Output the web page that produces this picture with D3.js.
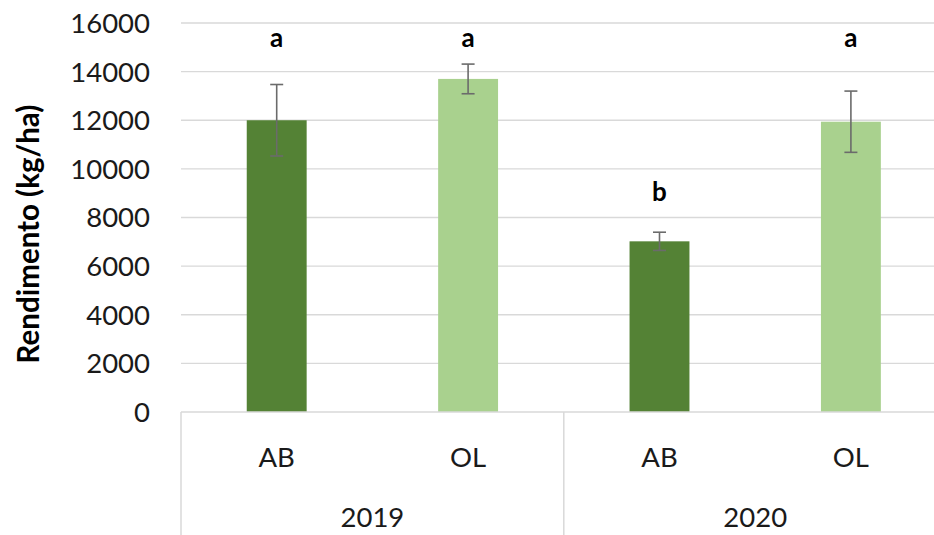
<!DOCTYPE html>
<html>
<head>
<meta charset="utf-8">
<script src="https://cdn.jsdelivr.net/npm/d3@7/dist/d3.min.js"></script>
<style>
  html, body { margin: 0; padding: 0; background: #fff; }
  svg { display: block; font-family: Lato, "Open Sans", sans-serif; }
</style>
</head>
<body>
<svg id="chart" width="934" height="535"></svg>
<script>
// Rendimento por tratamento e ano
const years = ["2019", "2019", "2020", "2020"];
const treatments = ["AB", "OL", "AB", "OL"];
const yieldMean = [12000, 13700, 7020, 11940];
const yieldErr = [1470, 610, 375, 1260];
const letters = ["a", "a", "b", "a"];
const letterAt = [15300, 15300, 8980, 15300];   // kg/ha level of each letter
const yTicks = [0, 2000, 4000, 6000, 8000, 10000, 12000, 14000, 16000];
const yearGroups = ["2019", "2020"];

const colors = { AB: "#548235", OL: "#a9d18e" };

const svg = d3.select("#chart");
const plotLeft = 181, step = 191.4, plotTop = 23, plotBottom = 412;
const keys = treatments.map((t, i) => i);

const x = d3.scaleBand()
  .domain(keys)
  .range([plotLeft, plotLeft + step * keys.length])
  .paddingInner(0.687)
  .paddingOuter(0.3435);

const y = d3.scaleLinear().domain([0, 16000]).range([plotBottom, plotTop]);

// gridlines
svg.append("g")
  .selectAll("line")
  .data(yTicks.filter(d => d > 0))
  .join("line")
  .attr("x1", plotLeft).attr("x2", plotLeft + step * keys.length)
  .attr("y1", d => y(d)).attr("y2", d => y(d))
  .attr("stroke", "#d9d9d9").attr("stroke-width", 1.3);

// y tick labels
svg.append("g")
  .selectAll("text")
  .data(yTicks)
  .join("text")
  .attr("x", 150)
  .attr("y", d => y(d))
  .attr("dy", "0.36em")
  .attr("text-anchor", "end")
  .attr("font-size", 27.5)
  .attr("fill", "#1a1a1a")
  .text(d => d);

// y axis title
svg.append("text")
  .attr("transform", `translate(39,234) rotate(-90)`)
  .attr("text-anchor", "middle")
  .attr("font-size", 29.5)
  .attr("font-weight", "bold")
  .attr("fill", "#000")
  .text("Rendimento (kg/ha)");

// bars
svg.append("g")
  .selectAll("rect")
  .data(keys)
  .join("rect")
  .attr("x", i => x(i))
  .attr("width", x.bandwidth())
  .attr("y", i => y(yieldMean[i]))
  .attr("height", i => y(0) - y(yieldMean[i]))
  .attr("fill", i => colors[treatments[i]]);

// error bars
const eb = svg.append("g").attr("stroke", "#6b6b6b").attr("stroke-width", 1.6).attr("fill", "none");
keys.forEach(i => {
  const cx = x(i) + x.bandwidth() / 2;
  const hi = y(yieldMean[i] + yieldErr[i]);
  const lo = y(yieldMean[i] - yieldErr[i]);
  eb.append("line").attr("x1", cx).attr("x2", cx).attr("y1", hi).attr("y2", lo);
  eb.append("line").attr("x1", cx - 6.5).attr("x2", cx + 6.5).attr("y1", hi).attr("y2", hi);
  eb.append("line").attr("x1", cx - 6.5).attr("x2", cx + 6.5).attr("y1", lo).attr("y2", lo);
});

// significance letters
svg.append("g")
  .selectAll("text")
  .data(keys)
  .join("text")
  .attr("x", i => x(i) + x.bandwidth() / 2)
  .attr("y", i => y(letterAt[i]))
  .attr("dy", "0.27em")
  .attr("text-anchor", "middle")
  .attr("font-size", 26)
  .attr("font-weight", "bold")
  .attr("fill", "#000")
  .text(i => letters[i]);

// category axis: baseline and group separators
const axisCol = "#d9d9d9";
svg.append("line")
  .attr("x1", plotLeft).attr("x2", plotLeft + step * keys.length)
  .attr("y1", plotBottom).attr("y2", plotBottom)
  .attr("stroke", axisCol).attr("stroke-width", 1.5);

const groupEdges = [0, 2, 4].map(k => plotLeft + step * k);
svg.append("g")
  .selectAll("line")
  .data(groupEdges)
  .join("line")
  .attr("x1", d => d).attr("x2", d => d)
  .attr("y1", plotBottom).attr("y2", 535)
  .attr("stroke", axisCol).attr("stroke-width", 1.5);

// inner category labels
svg.append("g")
  .selectAll("text")
  .data(keys)
  .join("text")
  .attr("x", i => x(i) + x.bandwidth() / 2)
  .attr("y", 457)
  .attr("dy", "0.36em")
  .attr("text-anchor", "middle")
  .attr("font-size", 27.5)
  .attr("fill", "#1a1a1a")
  .text(i => treatments[i]);

// year labels
svg.append("g")
  .selectAll("text")
  .data(yearGroups)
  .join("text")
  .attr("x", (d, g) => plotLeft + step * (2 * g + 1))
  .attr("y", 517)
  .attr("dy", "0.36em")
  .attr("text-anchor", "middle")
  .attr("font-size", 27.5)
  .attr("fill", "#1a1a1a")
  .text(d => d);
</script>
</body>
</html>
